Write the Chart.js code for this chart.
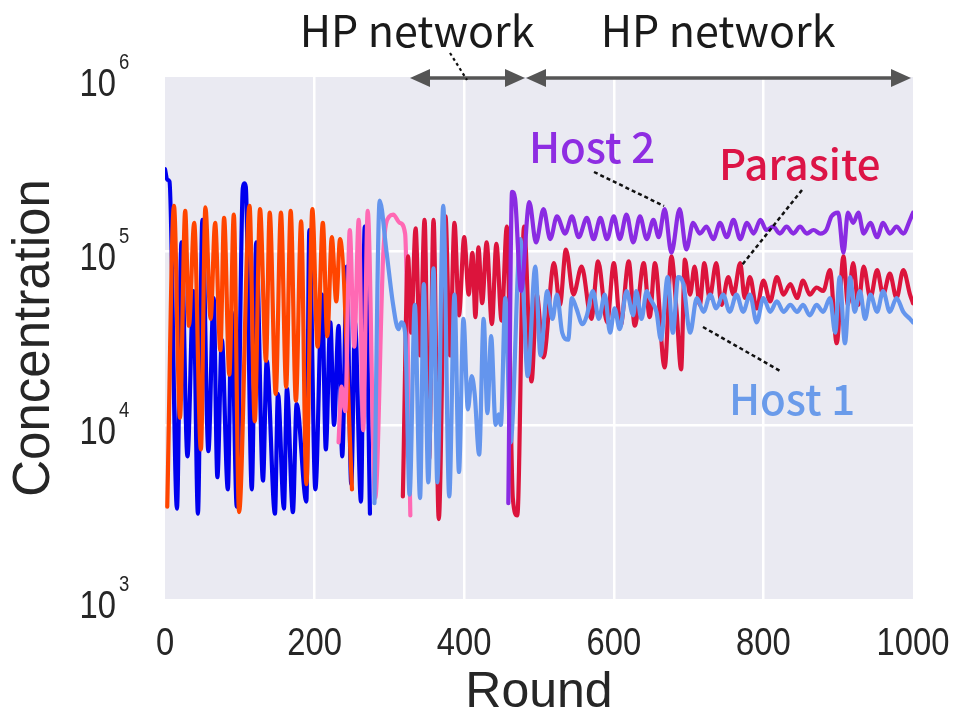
<!DOCTYPE html>
<html>
<head>
<meta charset="utf-8">
<script src="https://cdn.jsdelivr.net/npm/chart.js@4.4.1/dist/chart.umd.min.js"></script>
<style>
  html, body { margin: 0; padding: 0; background: #ffffff; }
  canvas { display: block; }
</style>
</head>
<body>
<canvas id="c" width="959" height="719"></canvas>
<script>
// ---------------- DATA ----------------
const xTicks = [0, 200, 400, 600, 800, 1000];
const xTickLabels = ['0', '200', '400', '600', '800', '1000'];
const yDecades = [1e3, 1e4, 1e5, 1e6];
const yExponents = ['3', '4', '5', '6'];

// Host (phase 1) - blue
const blueRounds = [0, 3, 6, 16, 22, 30, 38, 44, 50, 58, 65, 70, 76, 84, 89, 96, 104, 106, 108, 116, 122, 131, 136, 147, 151, 159, 163, 171, 176, 189, 193, 201, 210, 215, 221, 226, 232, 237, 243, 249, 254, 262, 267, 274];
const blueValues = [2.95e5, 2.57e5, 2.51e5, 3.31e3, 1.12e5, 6.61e3, 5.89e4, 3.09e3, 1.51e5, 7.08e3, 5.37e4, 5.01e3, 3.09e4, 4.27e3, 4.47e4, 3.39e3, 2.29e5, 2.45e5, 2.34e5, 4.27e3, 1.12e5, 4.79e3, 2.34e4, 3.09e3, 1.51e4, 3.31e3, 1.62e4, 3.16e3, 1.32e4, 3.63e3, 1.32e5, 4.27e3, 5.62e4, 7.24e3, 3.89e4, 1.0e4, 3.72e4, 6.61e3, 8.13e4, 4.57e3, 3.89e4, 3.63e3, 1.38e5, 3.09e3];

// Parasite (phase 1) - orange red
const orangeRounds = [3, 12, 20, 27, 32, 39, 48, 54, 61, 67, 74, 79, 86, 92, 99, 113, 120, 127, 135, 140, 148, 155, 162, 168, 175, 182, 189, 197, 204, 211, 217, 223, 229, 234, 250];
const orangeValues = [3.39e3, 1.82e5, 1.10e4, 1.70e5, 3.72e4, 1.45e5, 7.24e3, 1.78e5, 4.07e4, 1.45e5, 2.69e4, 1.55e5, 1.95e4, 1.62e5, 3.16e3, 1.82e5, 1.05e4, 1.74e5, 2.34e4, 1.66e5, 1.51e4, 1.66e5, 1.66e4, 1.70e5, 1.38e4, 1.48e5, 4.57e3, 1.74e5, 2.82e4, 1.45e5, 3.24e4, 1.20e5, 5.13e4, 1.17e5, 4.27e3];

// Parasite (phase 2) - pink
const pinkRounds = [232, 236, 241, 247, 253, 259, 265, 271, 281, 292, 300, 305, 314, 321, 328];
const pinkValues = [7.94e3, 1.66e4, 1.20e4, 1.32e5, 2.82e4, 1.51e5, 9.33e3, 1.70e5, 3.80e3, 1.0e5, 1.58e5, 1.62e5, 1.45e5, 1.26e5, 3.02e3];

// Host 1 - cornflower blue
const host1Rounds = [280, 287, 296, 305, 312, 316, 321, 327, 334, 341, 346, 352, 359, 364, 372, 380, 387, 393, 399, 405, 410, 414, 420, 426, 431, 436, 442, 446, 449, 455, 462, 475, 485, 495, 502, 511, 518, 524, 531, 539, 544, 550, 558, 564, 572, 580, 588, 595, 601, 608, 617, 626, 630, 637, 644, 648, 657, 663, 672, 679, 686, 693, 702, 711, 720, 729, 737, 746, 755, 764, 773, 782, 791, 800, 809, 818, 827, 836, 845, 853, 862, 871, 880, 889, 896, 902, 909, 916, 922, 929, 936, 943, 952, 960, 969, 978, 987, 996, 1000];
const host1Values = [3.55e3, 1.95e5, 1.0e5, 4.90e4, 3.55e4, 3.89e4, 3.39e4, 3.98e3, 4.90e4, 3.80e3, 6.46e4, 4.68e3, 7.94e4, 4.68e3, 1.82e5, 3.89e3, 5.62e4, 5.37e3, 4.07e4, 1.23e4, 1.91e4, 1.51e4, 6.76e3, 4.07e4, 1.17e4, 3.24e4, 1.0e4, 1.15e4, 1.0e4, 5.37e4, 7.94e3, 1.17e5, 1.91e4, 8.13e4, 2.51e4, 5.89e4, 4.07e4, 5.62e4, 3.39e4, 3.09e4, 5.37e4, 4.68e4, 3.80e4, 4.27e4, 5.89e4, 4.07e4, 5.62e4, 3.39e4, 4.68e4, 3.55e4, 5.89e4, 4.27e4, 5.89e4, 4.07e4, 5.89e4, 5.37e4, 4.47e4, 3.09e4, 7.08e4, 3.39e4, 7.08e4, 6.46e4, 3.39e4, 5.37e4, 4.47e4, 5.62e4, 4.68e4, 5.62e4, 4.47e4, 5.62e4, 4.47e4, 5.62e4, 3.89e4, 5.37e4, 4.47e4, 5.13e4, 4.47e4, 4.90e4, 4.47e4, 4.90e4, 4.27e4, 4.90e4, 4.47e4, 5.37e4, 3.39e4, 7.08e4, 2.95e4, 7.08e4, 4.47e4, 5.89e4, 4.07e4, 5.62e4, 4.47e4, 5.89e4, 4.47e4, 5.37e4, 4.47e4, 4.07e4, 3.89e4];

// Parasite - crimson
const parasiteRounds = [318, 325, 329, 335, 341, 347, 353, 359, 366, 375, 381, 387, 393, 400, 406, 411, 415, 419, 424, 430, 437, 443, 450, 457, 465, 471, 480, 490, 497, 506, 520, 528, 536, 546, 557, 570, 579, 591, 600, 609, 620, 628, 640, 648, 655, 668, 677, 684, 690, 695, 702, 708, 715, 721, 728, 737, 744, 753, 760, 769, 775, 782, 791, 800, 809, 818, 827, 836, 845, 853, 862, 871, 880, 889, 898, 907, 913, 920, 927, 934, 943, 952, 960, 969, 978, 987, 996, 1000];
const parasiteValues = [3.89e3, 9.33e4, 3.39e4, 1.35e5, 2.51e4, 1.51e5, 6.31e3, 1.51e5, 2.88e3, 1.58e5, 2.51e4, 1.45e5, 4.27e4, 1.20e5, 5.62e4, 9.77e4, 4.17e4, 1.05e5, 5.01e4, 1.12e5, 3.80e4, 1.10e5, 3.98e4, 1.38e5, 3.80e3, 3.02e3, 1.38e5, 1.78e4, 5.62e4, 2.45e4, 8.51e4, 4.90e4, 1.02e5, 5.62e4, 8.13e4, 4.07e4, 8.71e4, 3.89e4, 8.51e4, 3.72e4, 8.71e4, 3.72e4, 8.51e4, 4.17e4, 8.51e4, 2.14e4, 9.33e4, 4.47e4, 2.09e4, 8.91e4, 5.62e4, 8.13e4, 4.90e4, 8.51e4, 5.37e4, 8.51e4, 4.90e4, 7.08e4, 5.62e4, 8.51e4, 5.37e4, 7.08e4, 4.68e4, 6.76e4, 5.13e4, 7.08e4, 5.62e4, 6.46e4, 5.37e4, 6.76e4, 5.62e4, 6.17e4, 5.89e4, 7.76e4, 2.95e4, 9.33e4, 4.90e4, 8.51e4, 4.90e4, 8.13e4, 5.37e4, 7.76e4, 5.62e4, 7.41e4, 5.37e4, 7.76e4, 5.62e4, 5.01e4];

// Host 2 - purple
const host2Rounds = [459, 464, 468, 476, 487, 496, 506, 515, 524, 535, 544, 553, 564, 573, 582, 591, 600, 608, 617, 626, 635, 644, 653, 660, 668, 677, 688, 697, 706, 715, 724, 733, 742, 751, 760, 769, 778, 787, 796, 804, 813, 822, 831, 840, 849, 858, 867, 876, 884, 891, 900, 907, 913, 920, 927, 934, 943, 952, 960, 969, 978, 987, 996, 1000];
const host2Values = [3.55e3, 2.19e5, 2.0e5, 5.89e4, 1.91e5, 1.12e5, 1.74e5, 1.17e5, 1.58e5, 1.26e5, 1.58e5, 1.20e5, 1.55e5, 1.17e5, 1.55e5, 1.17e5, 1.58e5, 1.17e5, 1.62e5, 1.12e5, 1.58e5, 1.17e5, 1.51e5, 1.20e5, 1.74e5, 9.77e4, 1.74e5, 1.02e5, 1.45e5, 1.26e5, 1.38e5, 1.17e5, 1.45e5, 1.20e5, 1.51e5, 1.17e5, 1.45e5, 1.26e5, 1.51e5, 1.32e5, 1.38e5, 1.26e5, 1.38e5, 1.26e5, 1.38e5, 1.26e5, 1.32e5, 1.26e5, 1.32e5, 1.58e5, 1.66e5, 9.77e4, 1.66e5, 1.45e5, 1.66e5, 1.26e5, 1.45e5, 1.20e5, 1.45e5, 1.26e5, 1.38e5, 1.26e5, 1.51e5, 1.66e5];

// ---------------- CHART ----------------
function pts(rounds, values) { return rounds.map((r, i) => ({ x: r, y: values[i] })); }

const TICK_FONT = "'Liberation Sans', Arial, sans-serif";
const LABEL_FONT = "'Liberation Sans', Arial, sans-serif";
const NOTE_FONT = "'Noto Sans CJK JP', 'Noto Sans', sans-serif";
const NARROW = 0.84;

function ds(label, rounds, values, color, order) {
  return {
    label, data: pts(rounds, values), borderColor: color, backgroundColor: color,
    borderWidth: 4.2, pointRadius: 0, fill: false,
    cubicInterpolationMode: 'monotone',
    borderJoinStyle: 'round', borderCapStyle: 'round', order
  };
}

function narrowText(ctx, text, x, y, align) {
  ctx.save();
  ctx.translate(x, y);
  ctx.scale(NARROW, 1);
  ctx.textAlign = align;
  ctx.fillText(text, 0, 0);
  ctx.restore();
}

const bgPlugin = {
  id: 'bg',
  beforeDraw(chart) {
    const { ctx, chartArea: a } = chart;
    ctx.save();
    ctx.fillStyle = '#ffffff';
    ctx.fillRect(0, 0, chart.width, chart.height);
    ctx.fillStyle = '#eaeaf2';
    ctx.fillRect(a.left, a.top, a.right - a.left, a.bottom - a.top);
    ctx.restore();
  }
};

function arrowHead(ctx, x, y, dir) {
  ctx.beginPath();
  ctx.moveTo(x, y);
  ctx.lineTo(x - dir * 20, y - 9);
  ctx.lineTo(x - dir * 20, y + 9);
  ctx.closePath();
  ctx.fill();
}

const notesPlugin = {
  id: 'notes',
  afterDraw(chart) {
    const { ctx } = chart;
    const ys = chart.scales.y;
    const xs = chart.scales.x;
    ctx.save();
    ctx.fillStyle = '#262626';
    ctx.textBaseline = 'alphabetic';
    // y tick labels with superscripts
    yDecades.forEach((v, i) => {
      const y = ys.getPixelForValue(v);
      ctx.font = "39px " + TICK_FONT;
      narrowText(ctx, '10', 116, y + 19, 'right');
      ctx.font = "22px " + TICK_FONT;
      narrowText(ctx, yExponents[i], 119, y - 8, 'left');
    });
    // x tick labels
    ctx.font = "39px " + TICK_FONT;
    xTicks.forEach((v, i) => {
      narrowText(ctx, xTickLabels[i], xs.getPixelForValue(v), 655, 'center');
    });

    // HP network labels
    ctx.fillStyle = '#1a1a1a';
    ctx.font = "400 43px " + NOTE_FONT;
    ctx.textAlign = 'center';
    ctx.fillText('HP network', 417, 47);
    ctx.fillText('HP network', 718, 47);

    // arrows
    ctx.strokeStyle = '#555555';
    ctx.fillStyle = '#555555';
    ctx.lineWidth = 3.5;
    ctx.beginPath(); ctx.moveTo(425, 78); ctx.lineTo(510, 78); ctx.stroke();
    arrowHead(ctx, 410, 78, -1);
    arrowHead(ctx, 525, 78, 1);
    ctx.beginPath(); ctx.moveTo(540, 78); ctx.lineTo(896, 78); ctx.stroke();
    arrowHead(ctx, 526, 78, -1);
    arrowHead(ctx, 911, 78, 1);

    // leader lines
    ctx.strokeStyle = '#111111';
    ctx.lineWidth = 2.2;
    ctx.setLineDash([3, 3]);
    ctx.beginPath(); ctx.moveTo(450, 53); ctx.lineTo(467, 80); ctx.stroke();
    ctx.setLineDash([4, 3]);
    ctx.lineWidth = 2.5;
    ctx.beginPath(); ctx.moveTo(594, 172); ctx.lineTo(664, 206); ctx.stroke();
    ctx.beginPath(); ctx.moveTo(802, 190); ctx.lineTo(742, 265); ctx.stroke();
    ctx.beginPath(); ctx.moveTo(703, 327); ctx.lineTo(782, 372); ctx.stroke();
    ctx.setLineDash([]);

    // series labels
    ctx.font = "500 42px " + NOTE_FONT;
    ctx.textAlign = 'left';
    ctx.fillStyle = '#8e2de2';
    ctx.fillText('Host 2', 529, 163);
    ctx.fillStyle = '#dc1446';
    ctx.fillText('Parasite', 719, 180);
    ctx.fillStyle = '#6a9bea';
    ctx.fillText('Host 1', 729, 415);
    ctx.restore();
  }
};

new Chart(document.getElementById('c'), {
  type: 'line',
  data: {
    datasets: [
      ds('Host 2', host2Rounds, host2Values, '#8a2be2', 0),
      ds('Host 1', host1Rounds, host1Values, '#6495ed', 1),
      ds('Parasite', parasiteRounds, parasiteValues, '#dc143c', 2),
      ds('Parasite (early)', pinkRounds, pinkValues, '#ff69b4', 3),
      ds('Parasite (start)', orangeRounds, orangeValues, '#ff4500', 4),
      ds('Host (start)', blueRounds, blueValues, '#0000ee', 5)
    ]
  },
  options: {
    responsive: false,
    animation: false,
    devicePixelRatio: 1,
    layout: { padding: { top: 77, right: 0, bottom: 0, left: 0 } },
    plugins: { legend: { display: false }, tooltip: { enabled: false } },
    scales: {
      x: {
        type: 'linear', min: 0, max: 1000,
        afterFit(s) { s.height = 120; s.paddingLeft = 0; s.paddingRight = 46; },
        afterBuildTicks(s) { s.ticks = xTicks.map(v => ({ value: v })); },
        border: { display: false },
        grid: {
          drawTicks: false, lineWidth: 2.5,
          color: (c) => (c.tick && (c.tick.value === 0 || c.tick.value === 1000)) ? 'rgba(0,0,0,0)' : '#ffffff'
        },
        ticks: { display: false },
        title: { display: true, text: 'Round', color: '#262626', font: { family: LABEL_FONT, size: 50, lineHeight: 1 }, padding: { top: 0, bottom: 1 } }
      },
      y: {
        type: 'logarithmic', min: 1e3, max: 1e6,
        afterFit(s) { s.width = 165; },
        afterBuildTicks(s) { s.ticks = yDecades.map(v => ({ value: v })); },
        border: { display: false },
        grid: {
          drawTicks: false, lineWidth: 2.5,
          color: (c) => (c.tick && (c.tick.value === 1e3 || c.tick.value === 1e6)) ? 'rgba(0,0,0,0)' : '#ffffff'
        },
        ticks: { display: false },
        title: { display: true, text: 'Concentration', color: '#262626', font: { family: LABEL_FONT, size: 51, lineHeight: 1 }, padding: { top: 9, bottom: 0 } }
      }
    }
  },
  plugins: [bgPlugin, notesPlugin]
});
</script>
</body>
</html>
